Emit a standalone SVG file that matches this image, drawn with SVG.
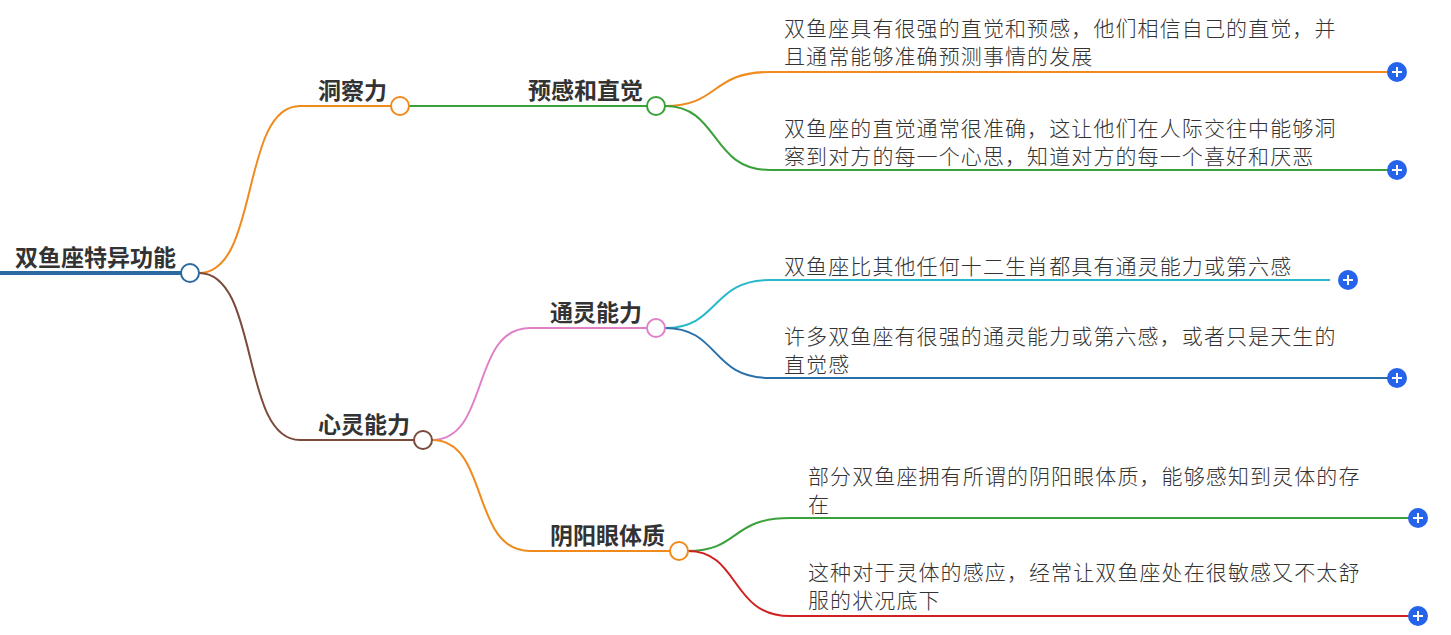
<svg xmlns="http://www.w3.org/2000/svg" width="1451" height="635" viewBox="0 0 1451 635">
<style>
.lb{font-family:"Noto Sans CJK SC","Noto Sans",sans-serif;font-size:23px;font-weight:bold;fill:#333}
.lf{font-family:"Noto Sans CJK SC","Noto Sans",sans-serif;font-size:21px;letter-spacing:1.1px;font-weight:300;fill:#333}
path{fill:none;stroke-width:2}
.pl circle{fill:#2563eb}
.pl path{stroke:#fff;stroke-width:2}
</style>
<rect width="1451" height="635" fill="#fff"/>
<g id="connectors">
<path d="M0 273 H190" stroke="#2a6aa0" style="stroke-width:4"/>
<path d="M199 273 C260 273 240 106 300 106 H392" stroke="#f08a1c"/>
<path d="M409 106 H647" stroke="#3aa03a"/>
<path d="M665 106 C720 106 710 72 770 72 H1390" stroke="#f08a1c"/>
<path d="M665 106 C720 106 710 170 770 170 H1390" stroke="#3aa03a"/>
<path d="M199 273 C260 273 240 440 300 440 H415" stroke="#7a4a3a"/>
<path d="M432 440 C490 440 470 328 530 328 H647" stroke="#e080c8"/>
<path d="M665 328 C720 328 710 280 770 280 H1330" stroke="#28b8cc"/>
<path d="M665 328 C720 328 710 378 770 378 H1390" stroke="#2a70a8"/>
<path d="M432 440 C490 440 470 551 530 551 H670" stroke="#f08a1c"/>
<path d="M688 551 C740 551 730 518 790 518 H1410" stroke="#3aa03a"/>
<path d="M688 551 C740 551 730 616 790 616 H1410" stroke="#d02020"/>
</g>
<g id="root"><text class="lb" x="15" y="266">双鱼座特异功能</text><circle cx="190" cy="273" r="9" fill="#fff" stroke="#2a6aa0" stroke-width="2"/></g>
<g id="n1"><text class="lb" x="318" y="99">洞察力</text><circle cx="400" cy="106" r="9" fill="#fff" stroke="#f08a1c" stroke-width="2"/></g>
<g id="n11"><text class="lb" x="528" y="99">预感和直觉</text><circle cx="656" cy="106" r="9" fill="#fff" stroke="#3aa03a" stroke-width="2"/></g>
<g id="l1"><text class="lf" x="784" y="36">双鱼座具有很强的直觉和预感，他们相信自己的直觉，并</text><text class="lf" x="784" y="64">且通常能够准确预测事情的发展</text></g>
<g id="l2"><text class="lf" x="784" y="136">双鱼座的直觉通常很准确，这让他们在人际交往中能够洞</text><text class="lf" x="784" y="164">察到对方的每一个心思，知道对方的每一个喜好和厌恶</text></g>
<g id="n2"><text class="lb" x="318" y="433">心灵能力</text><circle cx="423" cy="440" r="9" fill="#fff" stroke="#7a4a3a" stroke-width="2"/></g>
<g id="n21"><text class="lb" x="550" y="321">通灵能力</text><circle cx="656" cy="328" r="9" fill="#fff" stroke="#e080c8" stroke-width="2"/></g>
<g id="l3"><text class="lf" x="784" y="274">双鱼座比其他任何十二生肖都具有通灵能力或第六感</text></g>
<g id="l4"><text class="lf" x="784" y="344">许多双鱼座有很强的通灵能力或第六感，或者只是天生的</text><text class="lf" x="784" y="372">直觉感</text></g>
<g id="n22"><text class="lb" x="550" y="544">阴阳眼体质</text><circle cx="679" cy="551" r="9" fill="#fff" stroke="#f08a1c" stroke-width="2"/></g>
<g id="l5"><text class="lf" x="808" y="484">部分双鱼座拥有所谓的阴阳眼体质，能够感知到灵体的存</text><text class="lf" x="808" y="512">在</text></g>
<g id="l6"><text class="lf" x="808" y="580">这种对于灵体的感应，经常让双鱼座处在很敏感又不太舒</text><text class="lf" x="808" y="608">服的状况底下</text></g>
<g class="pl">
<g><circle cx="1397" cy="72" r="10"/><path d="M1392 72h10M1397 67v10"/></g>
<g><circle cx="1397" cy="170" r="10"/><path d="M1392 170h10M1397 165v10"/></g>
<g><circle cx="1348" cy="280" r="10"/><path d="M1343 280h10M1348 275v10"/></g>
<g><circle cx="1397" cy="378" r="10"/><path d="M1392 378h10M1397 373v10"/></g>
<g><circle cx="1418" cy="518" r="10"/><path d="M1413 518h10M1418 513v10"/></g>
<g><circle cx="1418" cy="616" r="10"/><path d="M1413 616h10M1418 611v10"/></g>
</g>
</svg>
